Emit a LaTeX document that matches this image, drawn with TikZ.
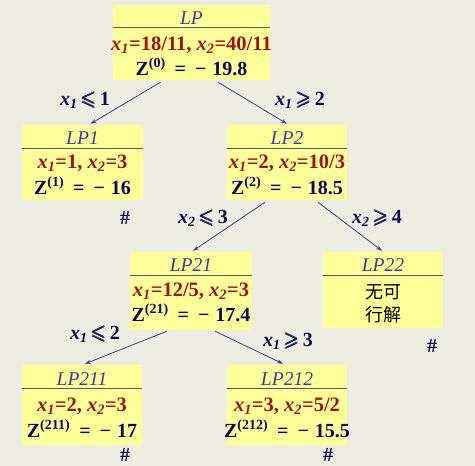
\documentclass[tikz,border=0pt]{standalone}
\usepackage{amsmath}
\usepackage{amssymb}
\usepackage{fontspec}
\setmainfont{Liberation Serif}
\newfontfamily\cjk{Noto Sans CJK SC}
\usetikzlibrary{calc,arrows.meta}
\definecolor{bgc}{HTML}{EDEDE1}
\definecolor{boxy}{HTML}{FFFF99}
\definecolor{ttl}{HTML}{3C3C96}
\definecolor{redt}{HTML}{9A1414}
\definecolor{navy}{HTML}{0A0A55}
\definecolor{edgec}{HTML}{3C3C82}
\definecolor{sepc}{HTML}{555566}
\newcommand{\xv}[1]{\textit{x}\textsubscript{\textit{#1}}}
\newcommand{\zv}[2]{Z\textsuperscript{(#1)}\hspace{0.45em}=\hspace{0.45em}−\hspace{0.3em}#2}
\newcommand{\lesl}{$\pmb{\leqslant}$}
\newcommand{\gesl}{$\pmb{\geqslant}$}
\tikzset{
  lpbox/.style={fill=boxy, draw=none, inner sep=0pt},
  ttlnode/.style={font=\fontsize{19.5}{21}\selectfont\itshape, text=ttl, inner sep=0pt},
  rednode/.style={font=\fontsize{20.5}{22}\selectfont\bfseries, text=redt, inner sep=0pt},
  znode/.style={font=\fontsize{20}{22}\selectfont\bfseries, text=navy, inner sep=0pt},
  cjknode/.style={font=\fontsize{18}{20}\selectfont\cjk, text=black, inner sep=0pt},
  lbl/.style={font=\fontsize{20}{22}\selectfont\bfseries, text=navy, inner sep=0pt},
  sepline/.style={draw=sepc, line width=0.9pt},
  edge/.style={draw=edgec, line width=0.8pt, -{Stealth[length=6pt,width=4pt]}},
  hash/.style={font=\fontsize{20}{22}\selectfont\bfseries, text=navy, inner sep=0pt}
}
\begin{document}
\begin{tikzpicture}[x=1pt,y=-1pt]
\fill[bgc] (0,0) rectangle (475,466);
\useasboundingbox (0,0) rectangle (475,466);

% boxes
\node[lpbox, minimum width=157pt, minimum height=75pt] (lp) at (191.5,42.5) {};
\node[lpbox, minimum width=121pt, minimum height=75pt] (lp1) at (82.5,162.5) {};
\node[lpbox, minimum width=120pt, minimum height=75pt] (lp2) at (287,162.5) {};
\node[lpbox, minimum width=122pt, minimum height=78pt] (lp21) at (191,291) {};
\node[lpbox, minimum width=120pt, minimum height=76pt] (lp22) at (383,290) {};
\node[lpbox, minimum width=120pt, minimum height=80pt] (lp211) at (82,405) {};
\node[lpbox, minimum width=120pt, minimum height=80pt] (lp212) at (287,405) {};

% LP
\node[ttlnode] (lpt) at ($(lp.north)+(0,13)$) {LP};
\draw[sepline] ($(lp.north west)+(0,23)$) -- ($(lp.north east)+(0,23)$);
\node[rednode] (lpa) at ($(lp.north)+(0,40)$) {\xv{1}=18/11, \xv{2}=40/11};
\node[znode] (lpb) at ($(lp.north)+(0,62)$) {\zv{0}{19.8}};

% LP1
\node[ttlnode] (lp1t) at ($(lp1.north)+(0,13)$) {LP1};
\draw[sepline] ($(lp1.north west)+(0,24)$) -- ($(lp1.north east)+(0,24)$);
\node[rednode] (lp1a) at ($(lp1.north)+(0,38)$) {\xv{1}=1, \xv{2}=3};
\node[znode] (lp1b) at ($(lp1.north)+(0,61)$) {\zv{1}{16}};

% LP2
\node[ttlnode] (lp2t) at ($(lp2.north)+(0,13)$) {LP2};
\draw[sepline] ($(lp2.north west)+(0,24)$) -- ($(lp2.north east)+(0,24)$);
\node[rednode] (lp2a) at ($(lp2.north)+(0,38)$) {\xv{1}=2, \xv{2}=10/3};
\node[znode] (lp2b) at ($(lp2.north)+(0,61)$) {\zv{2}{18.5}};

% LP21
\node[ttlnode] (lp21t) at ($(lp21.north)+(0,13)$) {LP21};
\draw[sepline] ($(lp21.north west)+(0,24)$) -- ($(lp21.north east)+(0,24)$);
\node[rednode] (lp21a) at ($(lp21.north)+(0,39)$) {\xv{1}=12/5, \xv{2}=3};
\node[znode] (lp21b) at ($(lp21.north)+(0,61)$) {\zv{21}{17.4}};

% LP22
\node[ttlnode] (lp22t) at ($(lp22.north)+(0,13)$) {LP22};
\draw[sepline] ($(lp22.north west)+(0,24)$) -- ($(lp22.north east)+(0,24)$);
\node[cjknode] (lp22a) at ($(lp22.north)+(0,40)$) {无可};
\node[cjknode] (lp22b) at ($(lp22.north)+(0,63)$) {行解};

% LP211
\node[ttlnode] (lp211t) at ($(lp211.north)+(0,14)$) {LP211};
\draw[sepline] ($(lp211.north west)+(0,24)$) -- ($(lp211.north east)+(0,24)$);
\node[rednode] (lp211a) at ($(lp211.north)+(0,41)$) {\xv{1}=2, \xv{2}=3};
\node[znode] (lp211b) at ($(lp211.north)+(0,64)$) {\zv{211}{17}};

% LP212
\node[ttlnode] (lp212t) at ($(lp212.north)+(0,14)$) {LP212};
\draw[sepline] ($(lp212.north west)+(0,24)$) -- ($(lp212.north east)+(0,24)$);
\node[rednode] (lp212a) at ($(lp212.north)+(0,41)$) {\xv{1}=3, \xv{2}=5/2};
\node[znode] (lp212b) at ($(lp212.north)+(0,64)$) {\zv{212}{15.5}};

% edges
\draw[edge] ($(lp.south)+(-31,2)$) -- ($(lp1.north)+(8,-1)$);
\draw[edge] ($(lp.south)+(26.5,2)$) -- ($(lp2.north)+(0,-1)$);
\draw[edge] ($(lp2.south)+(-22,2)$) -- ($(lp21.north)+(2,-1)$);
\draw[edge] ($(lp2.south)+(31,2)$) -- ($(lp22.north)+(-1,-1)$);
\draw[edge] ($(lp21.south)+(-24,1)$) -- ($(lp211.north)+(3,-1)$);
\draw[edge] ($(lp21.south)+(24,1)$) -- ($(lp212.north)+(-4,-1)$);

% edge labels
\node[lbl] (l1) at (85,100) {\xv{1}\,\lesl\,1};
\node[lbl] (l2) at (300,100) {\xv{1}\,\gesl\,2};
\node[lbl] (l3) at (203,218) {\xv{2}\,\lesl\,3};
\node[lbl] (l4) at (377,218) {\xv{2}\,\gesl\,4};
\node[lbl] (l5) at (95,334) {\xv{1}\,\lesl\,2};
\node[lbl] (l6) at (288,341) {\xv{1}\,\gesl\,3};

% pruned marks
\node[hash] (h1) at (125,218) {\#};
\node[hash] (h2) at (432,346) {\#};
\node[hash] (h3) at (125,455) {\#};
\node[hash] (h4) at (328,455) {\#};
\end{tikzpicture}
\end{document}
